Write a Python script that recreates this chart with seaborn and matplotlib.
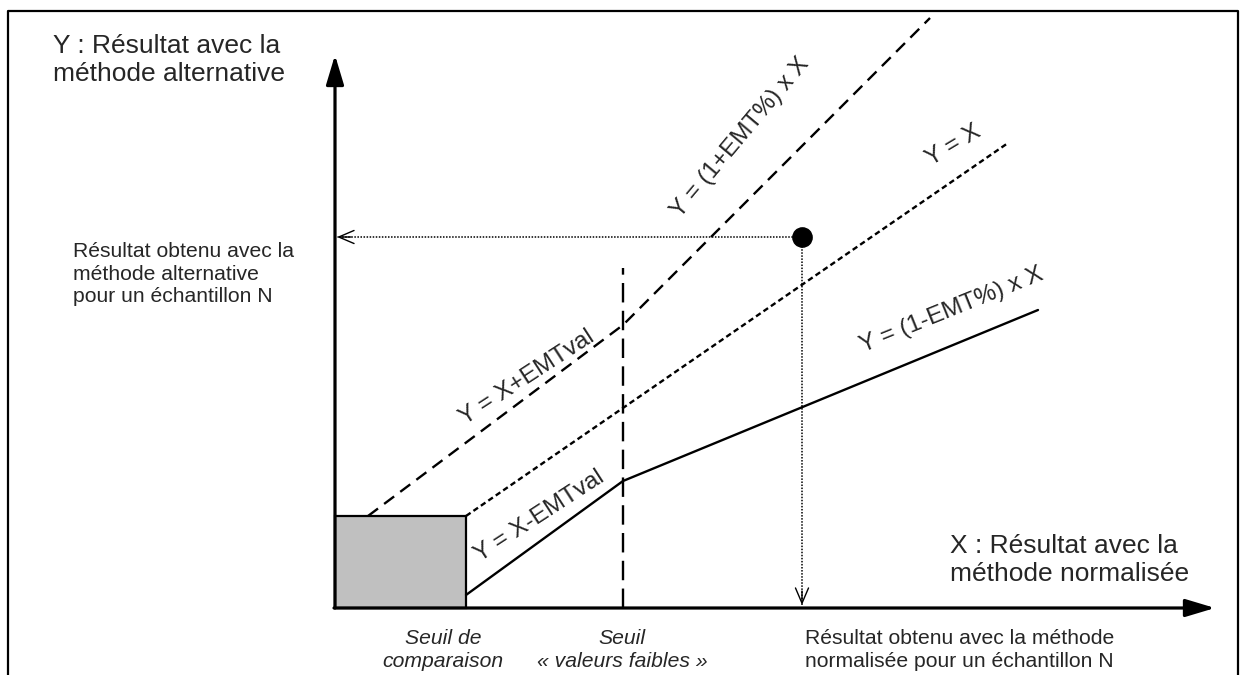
import numpy as np
import pandas as pd
import seaborn as sns
import matplotlib
matplotlib.use("Agg")
import matplotlib.pyplot as plt
from matplotlib.patches import Rectangle

# ---- diagram data (units: origin at axes crossing) ----
seuil_comparaison = 131          # x of "Seuil de comparaison"
box_height = 92                  # height of grey zone
seuil_faibles = 288              # x of "Seuil valeurs faibles"
vline_top = 340

upper_x = [33, 288, 595]         # Y = X+EMTval then Y = (1+EMT%) x X
upper_y = [92, 283, 590]
identity_x = [131, 673]          # Y = X
identity_y = [92, 465]
lower_x = [131, 288, 703]        # Y = X-EMTval then Y = (1-EMT%) x X
lower_y = [13, 127, 298]

point_x = [467]                  # sample N
point_y = [371]

x_axis_end = 880
y_axis_end = 553

frame_left, frame_right, frame_top = -327, 903, 597

sns.set_theme(style="white")
plt.rcParams["font.family"] = ["Liberation Sans", "DejaVu Sans"]
plt.rcParams["lines.scale_dashes"] = False

fig = plt.figure(figsize=(12.46, 6.75), dpi=100)
ax = fig.add_axes([0, 0, 1, 1])
ax.set_xlim(-335, 911)
ax.set_ylim(-67, 608)
ax.axis("off")

# frame
sns.lineplot(x=[frame_left, frame_left, frame_right, frame_right],
             y=[-80, frame_top, frame_top, -80], sort=False, ax=ax,
             color="black", lw=1.6, estimator=None)

# grey zone
ax.add_patch(Rectangle((0, 0), seuil_comparaison, box_height,
                       facecolor="#c0c0c0", edgecolor="black", lw=1.6, zorder=2))

# lines
sns.lineplot(x=upper_x, y=upper_y, sort=False, estimator=None, ax=ax,
             color="black", lw=1.7, linestyle=(0, (9, 5.5)))
sns.lineplot(x=identity_x, y=identity_y, sort=False, estimator=None, ax=ax,
             color="black", lw=1.7, linestyle=(0, (4, 2.5)))
sns.lineplot(x=lower_x, y=lower_y, sort=False, estimator=None, ax=ax,
             color="black", lw=1.7)
sns.lineplot(x=[seuil_faibles, seuil_faibles], y=[0, vline_top], sort=False,
             estimator=None, ax=ax, color="black", lw=1.7,
             linestyle=(0, (14, 6)))

# dotted projections
sns.lineplot(x=[point_x[0], 2], y=[point_y[0], point_y[0]], sort=False,
             estimator=None, ax=ax, color="black", lw=1.1, linestyle=(0, (1.1, 1.1)))
sns.lineplot(x=[point_x[0], point_x[0]], y=[point_y[0], 3], sort=False,
             estimator=None, ax=ax, color="black", lw=1.1, linestyle=(0, (1.1, 1.1)))
ax.annotate("", xy=(2, point_y[0]), xytext=(16, point_y[0]),
            arrowprops=dict(arrowstyle="->,head_length=1.1,head_width=0.47",
                            mutation_scale=10, lw=1.0, color="black",
                            shrinkA=0, shrinkB=0))
ax.annotate("", xy=(point_x[0], 3), xytext=(point_x[0], 17),
            arrowprops=dict(arrowstyle="->,head_length=1.1,head_width=0.47",
                            mutation_scale=10, lw=1.0, color="black",
                            shrinkA=0, shrinkB=0))

# point
sns.scatterplot(x=point_x, y=point_y, ax=ax, s=190, color="black",
                edgecolor="black", zorder=5)

# axes arrows
arrow_kw = dict(arrowstyle="-|>,head_length=1.8,head_width=0.54",
                mutation_scale=10, lw=2.3, color="black",
                shrinkA=0, shrinkB=0)
ax.annotate("", xy=(0, y_axis_end), xytext=(0, 0), arrowprops=arrow_kw, zorder=6)
ax.annotate("", xy=(x_axis_end, 0), xytext=(-1, 0), arrowprops=arrow_kw, zorder=6)

# axis titles
ax.text(-282, 574, "Y : Résultat avec la\nméthode alternative", fontsize=19,
        ha="left", va="top", linespacing=1.2)
ax.text(615, 74, "X : Résultat avec la\nméthode normalisée", fontsize=19,
        ha="left", va="top", linespacing=1.2)

ax.text(-262, 366, "Résultat obtenu avec la\nméthode alternative\npour un échantillon N",
        fontsize=15.2, ha="left", va="top", linespacing=1.25)
ax.text(470, -21, "Résultat obtenu avec la méthode\nnormalisée pour un échantillon N",
        fontsize=15.2, ha="left", va="top", linespacing=1.25)

ax.text(108, -21, "Seuil de\ncomparaison", fontsize=15.2, style="italic",
        ha="center", va="top", multialignment="center", linespacing=1.25)
ax.text(287, -21, "Seuil\n« valeurs faibles »", fontsize=15.2, style="italic",
        ha="center", va="top", multialignment="center", linespacing=1.25)

# line labels
lbl = dict(fontsize=17.5, ha="center", va="center")
ax.text(405, 470, "Y = (1+EMT%) x X", rotation=50, **lbl)
ax.text(618, 462, "Y = X", rotation=31, **lbl)
ax.text(192, 230, "Y = X+EMTval", rotation=33, **lbl)
ax.text(205, 92, "Y = X-EMTval", rotation=33, **lbl)
ax.text(617, 298, "Y = (1-EMT%) x X", rotation=22, **lbl)

fig.savefig("out.png", dpi=100)
